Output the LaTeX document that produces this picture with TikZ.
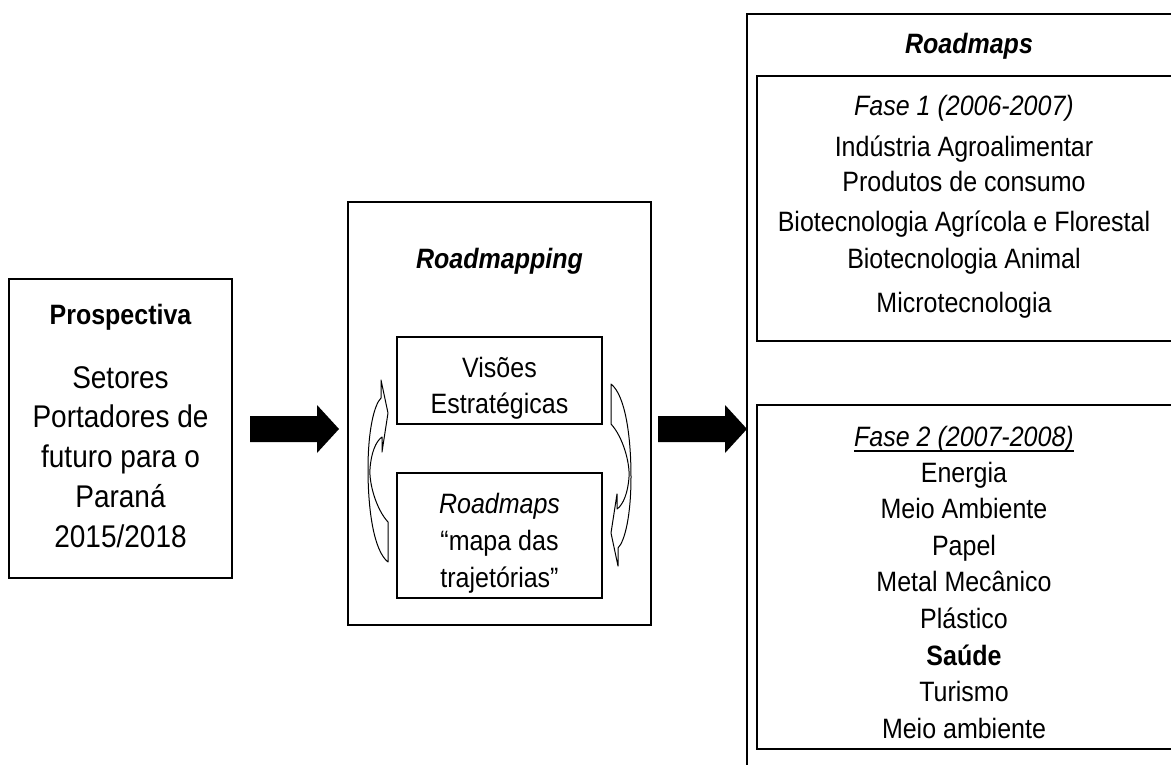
\documentclass[tikz,border=0pt]{standalone}
\usepackage{fontspec}
\setmainfont{Liberation Sans}
\newcommand\alto[1]{\scalebox{1}[1.12]{#1}}
\tikzset{
  box/.style={draw, line width=1.6pt, inner sep=0pt},
  txt/.style={anchor=base, inner sep=0pt, font=\fontsize{25}{30}\selectfont},
  bigtxt/.style={anchor=base, inner sep=0pt, font=\fontsize{28}{34}\selectfont},
  loop arrow/.pic={
    \draw[line width=1pt, line join=round] (10,91) -- (10,51)
      .. controls (-2,38) and (-9,12) .. (-8,-2)
      .. controls (-7,-18) and (-2,-30) .. (4,-34)
      -- (4,-19) -- (10,-58) -- (3,-91) -- (3,-73)
      .. controls (-4,-66) and (-10,-40) .. (-10,-2)
      .. controls (-10,40) and (-4,80) .. (10,91) -- cycle;
  }
}
\begin{document}
\begin{tikzpicture}[x=1pt,y=-1pt]
\useasboundingbox (0,0) rectangle (1171,765);
\clip (0,0) rectangle (1171,765);

% Prospectiva
\node[box, minimum width=223, minimum height=299] (prosp) at (120.5,428.5) {};
\node[txt, font=\fontsize{25}{30}\selectfont\bfseries] (prosp-t) at (120.5,324) {\alto{Prospectiva}};
\foreach \t [count=\k] in {Setores, Portadores de, futuro para o, Paraná, 2015/2018}
  \node[bigtxt] (prosp-\k) at (120.5,348.5+39.7*\k) {\alto{\t}};

% Roadmapping
\node[box, minimum width=303, minimum height=423] (rmap) at (499.5,413.5) {};
\node[txt, font=\fontsize{25}{30}\selectfont\bfseries\itshape] (rmap-t) at (499.5,269) {\alto{Roadmapping}};
\node[box, line width=1.2pt, minimum width=205, minimum height=87] (vis) at (499.5,380.5) {};
\node[txt] (vis-1) at (499.5,377) {\alto{Visões}};
\node[txt] (vis-2) at (499.5,413) {\alto{Estratégicas}};
\node[box, line width=1.2pt, minimum width=205, minimum height=125] (traj) at (499.5,535.5) {};
\node[txt, font=\fontsize{25}{30}\selectfont\itshape] (traj-1) at (499.5,513) {\alto{Roadmaps}};
\node[txt] (traj-2) at (499.5,550) {\alto{“mapa das}};
\node[txt] (traj-3) at (499.5,587) {\alto{trajetórias”}};

\pic at (378,471) {loop arrow};
\pic[rotate=180] at (621,475) {loop arrow};

% setas
\coordinate (a1) at (250,429);
\coordinate (a2) at (658,429);
\foreach \p in {a1,a2}
  \fill[shift={(\p)}] (0,-13) -- (67,-13) -- (67,-24) -- (89,0) -- (67,24) -- (67,13) -- (0,13) -- cycle;

% Roadmaps
\node[box, minimum width=444, minimum height=800] (maps) at (969,414) {};
\node[txt, font=\fontsize{25}{30}\selectfont\bfseries\itshape] (maps-t) at (969,54) {\alto{Roadmaps}};

\node[box, minimum width=420, minimum height=265] (fase1) at (967,208.5) {};
\node[txt, font=\fontsize{25}{30}\selectfont\itshape] (f1-t) at (964,116) {\alto{Fase 1 (2006-2007)}};
\foreach \t/\yy [count=\k] in {Indústria Agroalimentar/157, Produtos de consumo/192,
    Biotecnologia Agrícola e Florestal/231, Biotecnologia Animal/269, Microtecnologia/312}
  \node[txt] (f1-\k) at (964,\yy) {\alto{\t}};

\node[box, minimum width=420, minimum height=344] (fase2) at (967,577) {};
\node[txt, font=\fontsize{25}{30}\selectfont\itshape] (f2-t) at (964,446) {\alto{Fase 2 (2007-2008)}};
\draw[line width=1.8pt] ([yshift=-5pt]f2-t.base west) -- ([yshift=-5pt]f2-t.base east);
\foreach \t [count=\k] in {Energia, Meio Ambiente, Papel, Metal Mecânico, Plástico,
    {\bfseries Saúde}, Turismo, Meio ambiente}
  \node[txt] (f2-\k) at (964,445.4+36.6*\k) {\alto{\t}};

\end{tikzpicture}
\end{document}
